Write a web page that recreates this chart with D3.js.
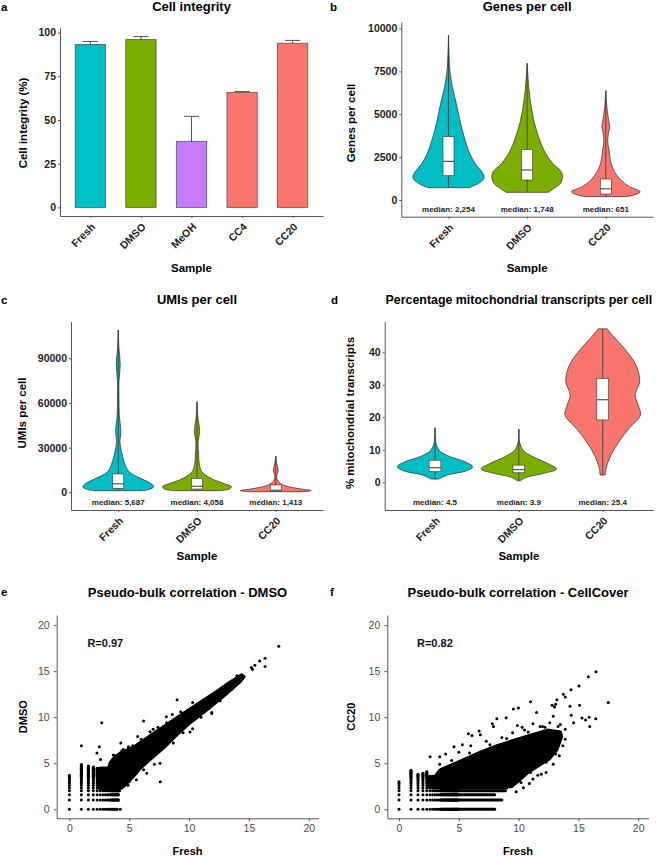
<!DOCTYPE html>
<html>
<head>
<meta charset="utf-8">
<script src="https://cdn.jsdelivr.net/npm/d3@7"></script>
<style>
  html, body { margin: 0; padding: 0; background: #fff; }
  svg { display: block; font-family: "Liberation Sans", Arial, Helvetica, sans-serif; }
</style>
</head>
<body>
<div id="chart"></div>
<script>
// ---- a: cell integrity ----
const integritySamples = ['Fresh', 'DMSO', 'MeOH', 'CC4', 'CC20'];
const integrityMean    = [93.2, 96.0, 37.8, 65.7, 93.9];
const integritySd      = [1.7, 1.7, 14.3, 0.6, 1.6];
const integrityTicks   = [0, 25, 50, 75, 100];

// ---- b-d: violins, outline = [value, relative density width] ----
const violinSamples = ['Fresh', 'DMSO', 'CC20'];

const genesViolin = [
    [[9600, 0], [7580, 0.04], [6606, 0.11], [5637, 0.22], [4665, 0.32], [3693, 0.44], [2720, 0.6], [2138, 0.75], [1555, 0.97], [1263, 1.0], [972, 0.85], [719, 0.58]],
    [[7969, 0], [6606, 0.046], [5637, 0.1], [4665, 0.185], [3693, 0.32], [2720, 0.52], [2138, 0.72], [1652, 0.96], [1360, 1.0], [972, 0.94], [680, 0.76], [447, 0.6]],
    [[6375, 0], [5442, 0.03], [4665, 0.08], [4276, 0.11], [3887, 0.075], [3401, 0.055], [2915, 0.09], [2332, 0.125], [1749, 0.22], [1166, 0.42], [777, 0.67], [486, 0.97], [292, 0.8], [194, 0.56]]
];
const genesBox    = [[1419, 2254, 3693], [1166, 1748, 2954], [350, 651, 1224]];
const genesMedian = ['2,254', '1,748', '651'];
const genesTicks  = [0, 2500, 5000, 7500, 10000];

const umiViolin = [
    [[109000, 0], [96700, 0.02], [85500, 0.056], [74300, 0.02], [63100, 0.02], [51900, 0.03], [40700, 0.075], [34000, 0.047], [27300, 0.094], [20600, 0.165], [13800, 0.305], [9400, 0.63], [6000, 0.915], [3800, 1.0], [2000, 0.89], [1100, 0.68]],
    [[60850, 0], [51900, 0.018], [40700, 0.075], [34000, 0.032], [25050, 0.046], [18330, 0.07], [13800, 0.14], [9400, 0.39], [6000, 0.75], [3800, 0.97], [2200, 0.92], [1100, 0.6]],
    [[24400, 0], [20600, 0.018], [14300, 0.066], [11600, 0.028], [8260, 0.046], [4900, 0.21], [2700, 0.59], [1100, 1.0], [400, 0.75]]
];
const umiBox    = [[2700, 5687, 12300], [2200, 4058, 9400], [800, 1413, 4900]];
const umiMedian = ['5,687', '4,058', '1,413'];
const umiTicks  = [0, 30000, 60000, 90000];

const mitoViolin = [
    [[16.8, 0], [12.5, 0.017], [10.95, 0.057], [9.4, 0.155], [7.9, 0.4], [6.3, 0.8], [4.8, 1.0], [3.5, 0.82], [2.25, 0.33], [1.0, 0.1]],
    [[16.4, 0], [12.5, 0.017], [9.9, 0.11], [7.9, 0.37], [5.85, 0.76], [4.1, 1.0], [2.77, 0.66], [1.54, 0.2], [0.5, 0.04]],
    [[47.2, 0.12], [45.3, 0.25], [41.2, 0.57], [36.1, 0.88], [31, 0.98], [26.9, 0.86], [23.8, 0.94], [20.7, 1.0], [16.6, 0.7], [12.5, 0.43], [8.4, 0.22], [4.3, 0.09], [2.25, 0.07]]
];
const mitoBox    = [[3.3, 4.5, 6.8], [2.95, 3.9, 5.3], [19.2, 25.4, 32.0]];
const mitoMedian = ['4.5', '3.9', '25.4'];
const mitoTicks  = [0, 10, 20, 30, 40];

// ---- e-f: pseudo-bulk scatter (log2 counts) ----
const countLevels = [0, 1, 1.585, 2, 2.322, 2.585, 2.807, 3, 3.17, 3.322, 3.459, 3.585, 3.7, 3.807, 3.907,
                     4, 4.087, 4.17, 4.248, 4.322, 4.392, 4.459, 4.524, 4.585, 4.644, 4.7, 4.755, 4.807, 4.858, 4.907];
const scatterTicks = [0, 5, 10, 15, 20];

// top of each discrete column (by x level) and end of each discrete row (by y level)
const dmsoColTop = [3.7, 4.87, 4.75, 4.6, 4.5, 4.46, 4.46, 4.46, 4.46, 4.46, 4.46, 4.5, 4.6, 4.7, 4.8, 4.9];
const dmsoRowEnd = [3.46, 4.09, 4.09, 4.17, 4.32, 4.4];
const dmsoCloud = [[2.5, 2.25], [2.5, 4.45], [3.3, 4.5], [3.39, 5.0], [3.67, 5.5], [4.23, 6.1], [5.35, 6.75], [6.74, 8.0],
    [8.13, 9.2], [9.5, 10.4], [10.9, 11.6], [12.3, 12.8], [13.4, 13.8], [14.4, 14.6], [14.6, 14.4], [14.3, 13.9],
    [12.9, 12.3], [11.5, 10.8], [10.1, 9.4], [9.0, 8.1], [7.9, 6.7], [6.74, 5.4], [5.9, 4.4], [5.2, 3.35], [4.65, 2.6], [4.35, 2.3]];
const dmsoOutliers = [[17.5, 17.7], [16.35, 16.4], [15.9, 16.1], [16.35, 15.5], [15.5, 15.65], [15.2, 15.4], [15.3, 15.2],
    [9.0, 11.9], [2.7, 9.4], [1.0, 6.9], [2.5, 6.8], [2.3, 6.1], [2.6, 5.4], [4.3, 7.2], [3.8, 5.8], [6.2, 9.6], [5.7, 7.9],
    [5.9, 6.8], [8.1, 10.05], [10.3, 11.6], [11.9, 10.5], [10.3, 8.75], [7.6, 3.0], [4.25, 0], [5.0, 3.0], [12.85, 12.3],
    [8.6, 10.3], [7.0, 8.7], [9.8, 9.1], [11.0, 10.0], [6.5, 7.0], [4.5, 6.5],
    [3.67, 5.89], [4.37, 6.32], [4.93, 6.8], [6.74, 8.42], [8.13, 9.4], [11.06, 10.4], [5.6, 3.2], [6.46, 3.9],
    [7.57, 5.0], [8.69, 7.2], [10.08, 8.4], [11.9, 10.4], [5.3, 6.9], [6.0, 7.6], [7.4, 8.9], [9.3, 10.6],
    [12.6, 11.8], [13.6, 13.1], [14.0, 14.5], [4.9, 2.6], [6.2, 4.3], [7.1, 4.9], [9.5, 8.3]];
const dmsoR = 'R=0.97';

const cc20ColTop = [3.0, 4.25, 3.9, 3.95, 4.1, 3.6, 3.6, 3.6, 3.6, 3.6];
const cc20RowEnd = [8.0, 8.6, 8.0, 8.9, 9.0];
const cc20Cloud = [[2.5, 2.45], [2.5, 3.5], [3.0, 3.55], [3.4, 4.25], [4.0, 4.6], [5.4, 5.4], [6.8, 6.2], [8.2, 6.9],
    [9.6, 7.5], [11.0, 8.05], [12.4, 8.6], [13.5, 8.4], [13.6, 7.9], [13.2, 6.45], [12.6, 5.5], [11.5, 4.6],
    [10.7, 3.9], [10.1, 3.2], [9.4, 2.45]];
const cc20Outliers = [[16.47, 14.93], [15.83, 14.4], [15.05, 13.4], [14.38, 12.97], [13.74, 12.5], [13.9, 12.2], [17.5, 11.6],
    [13.2, 11.9], [12.8, 11.3], [13.0, 11.1], [13.1, 11.4], [14.3, 11.2], [15.1, 11.3], [11.0, 11.67], [9.56, 10.9],
    [9.98, 11.0], [8.18, 9.84], [8.96, 9.95], [11.5, 10.5], [12.9, 10.1], [14.4, 10.2], [15.3, 9.9], [15.6, 9.7],
    [15.9, 10.0], [16.45, 9.84], [15.95, 9.0], [7.8, 9.3], [7.9, 9.0], [9.9, 9.1], [5.8, 8.2], [6.1, 8.0], [6.7, 8.5],
    [6.8, 8.1], [4.6, 6.8], [5.3, 7.0], [2.6, 5.7], [3.4, 5.7], [3.9, 6.0], [3.4, 4.9], [10.4, 2.35], [9.8, 1.9],
    [12.0, 9.0], [11.2, 9.3], [13.5, 9.2], [14.6, 9.4], [10.5, 8.6], [12.3, 4.0], [11.6, 3.7], [5.0, 6.2], [6.0, 6.9],
    [7.3, 7.4], [8.6, 7.8], [9.5, 8.3], [10.3, 8.9], [11.8, 9.0], [12.6, 9.4], [13.3, 9.0], [13.9, 8.7], [13.4, 5.8],
    [12.9, 4.9], [11.9, 3.8], [11.2, 3.3], [10.9, 2.8], [4.4, 5.3], [5.9, 6.1], [7.6, 7.0], [9.0, 7.7], [10.8, 8.4],
    [12.2, 8.9], [13.9, 7.6], [13.7, 6.9], [13.1, 6.0], [12.3, 5.1], [11.0, 4.0], [10.2, 2.9]];
const cc20R = 'R=0.82';

const sampleColor = { Fresh: '#00BFC4', DMSO: '#7CAE00', MeOH: '#C77CFF', CC4: '#F8766D', CC20: '#F8766D' };

const svg = d3.select('#chart').append('svg').attr('width', 656).attr('height', 856);

function styleAxis(sel, size, weight, fill) {
    sel.attr('font-family', null).attr('font-size', null);
    sel.select('.domain').attr('stroke', '#555').attr('stroke-width', 1);
    sel.selectAll('.tick line').attr('stroke', '#555');
    sel.selectAll('.tick text')
        .attr('font-size', size).attr('font-weight', weight).attr('fill', fill);
}

function label(text, x, y, opts = {}) {
    const t = svg.append('text')
        .attr('x', x).attr('y', y)
        .attr('text-anchor', opts.anchor || 'middle')
        .attr('font-size', opts.size || 11.5)
        .attr('font-weight', opts.weight || 'bold')
        .attr('fill', opts.fill || '#000')
        .text(text);
    if (opts.rotate) t.attr('transform', `rotate(-90,${x},${y})`);
    return t;
}

// Category panel (a-d): axes + titles, returns scales
function catPanel(box, yDomain, cats, ticks, t) {
    const x = d3.scalePoint().domain(cats).range([box.left, box.right]).padding(0.6);
    const y = d3.scaleLinear().domain(yDomain).range([box.bottom, box.top]);
    const gy = svg.append('g').attr('transform', `translate(${box.left},0)`)
        .call(d3.axisLeft(y).tickValues(ticks).tickFormat(d3.format('d')).tickSize(2).tickPadding(2).tickSizeOuter(0));
    styleAxis(gy, 10.5, 'bold', '#222');
    const gx = svg.append('g').attr('transform', `translate(0,${box.bottom})`)
        .call(d3.axisBottom(x).tickSize(2).tickSizeOuter(0));
    styleAxis(gx, 10.5, 'bold', '#222');
    gx.selectAll('.tick text')
        .attr('y', 0).attr('dy', 0).attr('text-anchor', 'end')
        .attr('transform', 'translate(5,11.5) rotate(-45)');

    const cx = (box.left + box.right) / 2;
    label(t.title, cx, t.titleY, { size: t.titleSize || 13 });
    label(t.letter, t.letterX, t.titleY, { size: 11.5, anchor: 'start' });
    label(t.yTitle, t.yTitleX, t.yTitleY, { rotate: true });
    label('Sample', cx, t.xTitleY);
    return { x, y };
}

function violins(g, sc, data, boxes, medians, box) {
    const step = sc.x.step();
    const half = step * 0.45;
    const bw = step * 0.14;
    violinSamples.forEach((s, i) => {
        const cx = sc.x(s);
        const area = d3.area()
            .y(d => sc.y(d[0]))
            .x0(d => cx - d[1] * half)
            .x1(d => cx + d[1] * half)
            .curve(d3.curveCatmullRom.alpha(0.5));
        g.append('path').attr('d', area(data[i]))
            .attr('fill', sampleColor[s]).attr('stroke', '#2b2b2b').attr('stroke-width', 0.7);
        const ext = d3.extent(data[i], d => d[0]);
        g.append('line')
            .attr('x1', cx).attr('x2', cx).attr('y1', sc.y(ext[0])).attr('y2', sc.y(ext[1]))
            .attr('stroke', '#333').attr('stroke-width', 0.8);
        const [q1, med, q3] = boxes[i];
        g.append('rect')
            .attr('x', cx - bw / 2).attr('width', bw)
            .attr('y', sc.y(q3)).attr('height', sc.y(q1) - sc.y(q3))
            .attr('fill', '#fff').attr('stroke', '#333').attr('stroke-width', 0.6);
        g.append('line')
            .attr('x1', cx - bw / 2).attr('x2', cx + bw / 2).attr('y1', sc.y(med)).attr('y2', sc.y(med))
            .attr('stroke', '#333').attr('stroke-width', 1);
        g.append('text')
            .attr('x', cx).attr('y', box.bottom - 5)
            .attr('text-anchor', 'middle').attr('font-size', 8).attr('font-weight', 'bold').attr('fill', '#222')
            .text('median: ' + medians[i]);
    });
}

// ---------- a ----------
{
    const box = { left: 60, right: 323, top: 28, bottom: 216 };
    const sc = catPanel(box, [-4.9, 102.6], integritySamples, integrityTicks,
        { title: 'Cell integrity', titleY: 11, letter: 'a', letterX: 1, yTitle: 'Cell integrity (%)', yTitleX: 27, yTitleY: 123, xTitleY: 272 });
    const g = svg.append('g');
    const bw = sc.x.step() * 0.6;
    integritySamples.forEach((s, i) => {
        const cx = sc.x(s);
        const top = sc.y(integrityMean[i] + integritySd[i]);
        g.append('path')
            .attr('d', `M${cx - bw / 4},${top}H${cx + bw / 4}M${cx},${top}V${sc.y(integrityMean[i] - integritySd[i])}`)
            .attr('stroke', '#555').attr('stroke-width', 1).attr('fill', 'none');
        g.append('rect')
            .attr('x', cx - bw / 2).attr('width', bw)
            .attr('y', sc.y(integrityMean[i])).attr('height', sc.y(0) - sc.y(integrityMean[i]))
            .attr('fill', sampleColor[s]).attr('stroke', 'rgba(0,0,0,0.55)').attr('stroke-width', 0.8);
    });
}

// ---------- b ----------
{
    const box = { left: 401.3, right: 653, top: 22, bottom: 216.7 };
    const sc = catPanel(box, [-974, 10379], violinSamples, genesTicks,
        { title: 'Genes per cell', titleY: 11, letter: 'b', letterX: 330, yTitle: 'Genes per cell', yTitleX: 354.7, yTitleY: 123, xTitleY: 272 });
    violins(svg.append('g'), sc, genesViolin, genesBox, genesMedian, box);
}

// ---------- c ----------
{
    const box = { left: 71, right: 323, top: 321.7, bottom: 510 };
    const sc = catPanel(box, [-11890, 114580], violinSamples, umiTicks,
        { title: 'UMIs per cell', titleY: 304, letter: 'c', letterX: 1, yTitle: 'UMIs per cell', yTitleX: 25.7, yTitleY: 413, xTitleY: 560 });
    violins(svg.append('g'), sc, umiViolin, umiBox, umiMedian, box);
}

// ---------- d ----------
{
    const box = { left: 384.7, right: 653, top: 321.7, bottom: 510 };
    const sc = catPanel(box, [-8.5, 49.4], violinSamples, mitoTicks,
        { title: 'Percentage mitochondrial transcripts per cell', titleSize: 12.4, titleY: 304, letter: 'd', letterX: 331, yTitle: '% mitochondrial transcripts', yTitleX: 353.7, yTitleY: 413, xTitleY: 560 });
    violins(svg.append('g'), sc, mitoViolin, mitoBox, mitoMedian, box);
}

// ---------- e / f ----------
function scatterPanel(box, xDomain, t, colTop, rowEnd, cloud, outliers, rText) {
    const x = d3.scaleLinear().domain(xDomain).range([box.left, box.right]);
    const y = d3.scaleLinear().domain([-0.98, 21.1]).range([box.bottom, box.top]);
    const gy = svg.append('g').attr('transform', `translate(${box.left},0)`)
        .call(d3.axisLeft(y).tickValues(scatterTicks).tickSize(3).tickPadding(4).tickSizeOuter(0));
    styleAxis(gy, 10.5, 'normal', '#4d4d4d');
    const gx = svg.append('g').attr('transform', `translate(0,${box.bottom})`)
        .call(d3.axisBottom(x).tickValues(scatterTicks).tickSize(3).tickPadding(3).tickSizeOuter(0));
    styleAxis(gx, 10.5, 'normal', '#4d4d4d');

    const g = svg.append('g');
    // discrete low-count lattice
    const pts = [];
    countLevels.forEach((xv, i) => countLevels.forEach((yv, j) => {
        const inCol = i < colTop.length && yv <= colTop[i];
        const inRow = j < rowEnd.length && xv <= rowEnd[j];
        if (inCol || inRow) pts.push([xv, yv]);
    }));
    g.selectAll(null).data(rowEnd.map((e, j) => [countLevels[j], e]).filter(d => d[1] > 3.5))
        .join('line')
        .attr('x1', x(3.5)).attr('x2', d => x(d[1]))
        .attr('y1', d => y(d[0])).attr('y2', d => y(d[0]))
        .attr('stroke', '#000').attr('stroke-width', 3).attr('stroke-linecap', 'round');
    g.append('path')
        .attr('d', d3.line().x(d => x(d[0])).y(d => y(d[1])).curve(d3.curveLinearClosed)(cloud))
        .attr('fill', '#000').attr('stroke', '#000').attr('stroke-width', 3).attr('stroke-linejoin', 'round');
    g.selectAll(null).data(pts.concat(outliers)).join('circle')
        .attr('cx', d => x(d[0])).attr('cy', d => y(d[1])).attr('r', 1.5).attr('fill', '#000');

    g.append('text')
        .attr('x', x(3)).attr('y', y(18)).attr('dy', '0.35em')
        .attr('text-anchor', 'middle').attr('font-size', 11).attr('font-weight', 'bold').attr('fill', '#111')
        .text(rText);

    const cx = (box.left + box.right) / 2;
    label(t.title, cx, 597, { size: 13 });
    label(t.letter, t.letterX, 596, { size: 11.5, anchor: 'start' });
    label(t.yTitle, t.yTitleX, (box.top + box.bottom) / 2, { rotate: true, size: 11 });
    label('Fresh', cx, 855, { size: 11 });
}

scatterPanel({ left: 56.7, right: 318.3, top: 615, bottom: 818.3 }, [-1.06, 20.8],
    { title: 'Pseudo-bulk correlation - DMSO', letter: 'e', letterX: 1, yTitle: 'DMSO', yTitleX: 27.3 },
    dmsoColTop, dmsoRowEnd, dmsoCloud, dmsoOutliers, dmsoR);

scatterPanel({ left: 387.3, right: 648.7, top: 615, bottom: 818.3 }, [-0.98, 20.88],
    { title: 'Pseudo-bulk correlation - CellCover', letter: 'f', letterX: 330, yTitle: 'CC20', yTitleX: 355.3 },
    cc20ColTop, cc20RowEnd, cc20Cloud, cc20Outliers, cc20R);
</script>
</body>
</html>
